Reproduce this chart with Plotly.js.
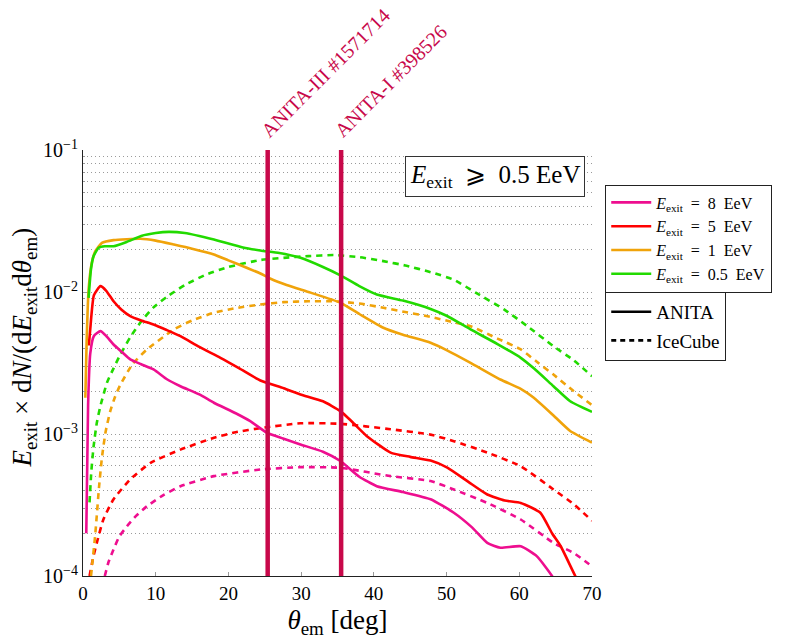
<!DOCTYPE html>
<html><head><meta charset="utf-8">
<script src="https://cdn.plot.ly/plotly-3.0.1.min.js"></script>
<style>body{margin:0;background:#fff}</style></head>
<body><div id="chart" style="width:804px;height:639px"></div>
<script>
// ---------- data ----------
const thetaA8 = [0.45,0.7,1.0,1.5,2.4,3.2,4.2,5.3,6.5,8,9.7,11.6,13.4,16,18,21,23,25.3,27.5,29.9,33,35.4,38,40.4,44,47.8,51,53.5,55.6,57.4,60.2,62.4,64.5,65.2];
const anita8  = [0.0002,0.0016,0.0037,0.0049,0.0053,0.0049,0.00427,0.0038,0.00335,0.0031,0.00285,0.00242,0.00217,0.0019,0.00166,0.0014,0.00123,0.00102,0.00093,0.000844,0.00075,0.000645,0.0005,0.000429,0.00039,0.000347,0.000279,0.00022,0.000171,0.000158,0.000162,0.000138,0.0001,0.000085];

const thetaA5 = [0.8,1.0,1.5,2.4,3.2,4.2,5.3,6.5,8,9.7,11.5,13.4,16,18.9,21.5,24.4,27.6,29.9,33,35.4,37,39,42.3,45,47.8,50.1,53,55.6,58,60.2,62.9,64.5,65.7,67.7,68.5];
const anita5  = [0.0042,0.0055,0.0095,0.011,0.0102,0.0086,0.0075,0.00676,0.0063,0.0059,0.0054,0.00489,0.0041,0.00344,0.0029,0.00238,0.0021,0.0019,0.0017,0.00145,0.00122,0.00097,0.00074,0.00069,0.00065,0.00058,0.00046,0.000375,0.00034,0.000327,0.000279,0.0002,0.000162,0.0001,0.000085];

const thetaA1 = [0.32,0.5,0.77,1.2,1.7,2.6,4.2,7.9,10,12.5,15,18,20,22,24.4,25.8,28,31.3,35.4,38,41.3,44,47.8,50,53.3,57.4,60.2,62,64.7,67,70];
const anita1  = [0.0018,0.0045,0.0104,0.016,0.0194,0.0222,0.0232,0.0237,0.023,0.0216,0.0202,0.0184,0.0167,0.0152,0.0135,0.0124,0.0112,0.0099,0.0084,0.007,0.0056,0.005,0.00439,0.0039,0.00317,0.00242,0.00208,0.0018,0.00135,0.00105,0.00087];

const thetaA05 = [0.77,1.1,1.46,2.15,3,4.2,6,8,10,11.8,14,18,22,24.4,27,29.9,33,35.4,38,40.4,44,47.8,50,53.3,57,60.2,62,64.7,67,70];
const anita05  = [0.0091,0.0145,0.0179,0.0205,0.021,0.021,0.0225,0.0248,0.026,0.0265,0.026,0.0234,0.0206,0.0196,0.0188,0.0174,0.015,0.0131,0.011,0.0096,0.0087,0.0076,0.0068,0.00545,0.0043,0.00344,0.0029,0.00217,0.0017,0.00143];

const thetaI8 = [3.0,3.5,4.2,5,6.05,7.3,8.8,11,13.4,18,24.4,29.9,35.4,42.3,47.8,51,55.6,60.2,64.7,67.5,70];
const ice8    = [0.0001,0.000125,0.000154,0.00019,0.000224,0.000265,0.00031,0.00037,0.000429,0.000505,0.000562,0.000584,0.000578,0.000505,0.000466,0.000407,0.000327,0.00025,0.000171,0.000145,0.000117];

const thetaI5 = [0.9,1.4,1.9,2.8,4.2,6.5,9.3,13.4,18,21,24.4,29.9,35.4,42.3,47.8,51,55.6,60.2,64.7,67.5,70];
const ice5    = [0.0001,0.000135,0.000171,0.00025,0.000347,0.000479,0.000627,0.000776,0.00094,0.00103,0.0011,0.00119,0.00118,0.00108,0.00099,0.00089,0.00074,0.000593,0.000407,0.00032,0.000245];

const thetaI1 = [1.1,1.3,1.7,2.2,2.6,3.1,3.75,4.4,5.1,6.8,8.8,12.5,15,18,21,24.4,27.6,31,34.5,38,41.3,44.5,47.8,50.5,53.3,57,60.2,62.5,64.7,67.5,70];
const ice1    = [0.0001,0.000125,0.0002,0.00042,0.00068,0.00103,0.00145,0.00182,0.0022,0.0031,0.00394,0.00545,0.0063,0.00714,0.0077,0.00817,0.00848,0.0086,0.0086,0.0083,0.00774,0.0072,0.00668,0.0062,0.00574,0.0047,0.00394,0.0032,0.00262,0.002,0.0016];

const thetaI05 = [0.9,1.15,1.46,1.9,2.4,3.3,4.2,5.1,6.5,7.9,9.7,11.6,14,17,20,24.4,27.6,31,34.5,38,41.3,44.5,47.8,51,54,57.9,61,64.7,67.5,70];
const ice05    = [0.00033,0.00055,0.00082,0.0012,0.00158,0.0023,0.0029,0.0036,0.0048,0.0061,0.0078,0.0093,0.0112,0.0133,0.015,0.0168,0.0174,0.0179,0.0182,0.0176,0.0165,0.0153,0.0138,0.0122,0.0099,0.00754,0.0058,0.00415,0.0033,0.00255];

const seriesNames = ['<i>E</i><sub>exit</sub>\u2002=\u20028\u2002EeV','<i>E</i><sub>exit</sub>\u2002=\u20025\u2002EeV','<i>E</i><sub>exit</sub>\u2002=\u20021\u2002EeV','<i>E</i><sub>exit</sub>\u2002=\u20020.5\u2002EeV'];
const detectorNames = ['ANITA','IceCube'];
const eventTheta = [25.4, 35.5];
const eventLabels = ['ANITA-III #1571714','ANITA-I #398526'];
const yTickVals = [1e-4,1e-3,1e-2,1e-1];
const yTickText = ['10<sup>−4</sup>','10<sup>−3</sup>','10<sup>−2</sup>','10<sup>−1</sup>'];
const xTickVals = [0,10,20,30,40,50,60,70];
const yTitle = '<i>E</i><sub>exit</sub> × d<i>N</i>/(d<i>E</i><sub>exit</sub>d<i>θ</i><sub>em</sub>)';
const xTitle = '<i>θ</i><sub>em</sub> [deg]';
const boxLabel = '<i>E</i><sub>exit</sub>\u2002⩾\u20020.5 EeV';

// ---------- styles ----------
const colors = ['#EE0E8F','#FF0000','#F0A30A','#22DA00'];
const eventColor = '#C8084A';
const FONT = 'Liberation Serif';

const anitaSets = [[thetaA8,anita8],[thetaA5,anita5],[thetaA1,anita1],[thetaA05,anita05]];
const iceSets = [[thetaI8,ice8],[thetaI5,ice5],[thetaI1,ice1],[thetaI05,ice05]];

const traces = [];
iceSets.forEach((s,i)=>traces.push({x:s[0],y:s[1],mode:'lines',showlegend:false,hoverinfo:'skip',
  line:{color:colors[i],width:2.6,dash:'6px,5px',shape:'spline',smoothing:0.5}}));
anitaSets.forEach((s,i)=>traces.push({x:s[0],y:s[1],mode:'lines',name:seriesNames[i],legend:'legend',
  line:{color:colors[i],width:2.6,shape:'spline',smoothing:0.5}}));
eventTheta.forEach(t=>traces.push({x:[t,t],y:[yTickVals[0],yTickVals[3]],mode:'lines',showlegend:false,
  line:{color:eventColor,width:4.5},hoverinfo:'skip'}));
traces.push({x:[null],y:[null],mode:'lines',name:detectorNames[0],legend:'legend2',legendgroup:'a',line:{color:'black',width:2.6}});
traces.push({x:[null],y:[null],mode:'lines',name:detectorNames[1],legend:'legend2',legendgroup:'b',line:{color:'black',width:2.6,dash:'5px,4px'}});

// minor ticks on log axis
const minorVals = [];
for (let d=-4; d<-1; d++) for (let k=2; k<=9; k++) minorVals.push(k*Math.pow(10,d));

const annotations = eventTheta.map((t,i)=>({x:t,y:-1,xref:'x',yref:'y',text:eventLabels[i],showarrow:false,
  textangle:-45,xanchor:'left',yanchor:'bottom',xshift:-14,yshift:6,font:{family:FONT,size:20,color:eventColor}}));
annotations.push({x:56.6,y:0.938,xref:'x',yref:'paper',text:boxLabel,showarrow:false,
  xanchor:'center',yanchor:'middle',
  bordercolor:'#333',borderwidth:1,borderpad:4,bgcolor:'#fff',font:{family:FONT,size:25,color:'#000'}});
annotations.push({x:-0.116,y:0.536,xref:'paper',yref:'paper',text:yTitle,showarrow:false,textangle:-90,
  xanchor:'center',yanchor:'middle',font:{family:FONT,size:27,color:'#000'}});

const layout = {
  width:804,height:639,margin:{l:83,r:212,t:150,b:63},
  paper_bgcolor:'#fff',plot_bgcolor:'#fff',
  font:{family:FONT,color:'#000',size:18},
  xaxis:{range:[0,70],tickvals:xTickVals,ticks:'inside',ticklen:4,tickcolor:'#999',showline:true,linecolor:'#222',linewidth:1,
    showgrid:false,zeroline:false,tickfont:{family:FONT,size:19},
    title:{text:xTitle,font:{family:FONT,size:27},standoff:16}},
  yaxis:{type:'log',range:[-4,-1],tickvals:yTickVals,ticktext:yTickText,ticks:'inside',ticklen:4,tickcolor:'#999',
    showline:true,linecolor:'#222',linewidth:1,showgrid:true,gridcolor:'#9a9a9a',griddash:'1px,3px',gridwidth:1,zeroline:false,
    tickfont:{family:FONT,size:20},
    minor:{tickmode:'array',tickvals:minorVals,showgrid:true,gridcolor:'#9a9a9a',griddash:'1px,3px',gridwidth:1,ticks:'inside',ticklen:2,tickcolor:'#999'}},
  legend:{x:1.026,y:0.919,xanchor:'left',yanchor:'top',bordercolor:'#222',borderwidth:1,bgcolor:'#fff',
    font:{family:FONT,size:16},tracegroupgap:0,itemwidth:40},
  legend2:{x:1.026,y:0.667,xanchor:'left',yanchor:'top',bordercolor:'#222',borderwidth:1,bgcolor:'#fff',
    font:{family:FONT,size:19},itemwidth:40,tracegroupgap:1},
  annotations:annotations,
  showlegend:true
};
Plotly.newPlot('chart',traces,layout,{displayModeBar:false,staticPlot:true});
</script></body></html>
